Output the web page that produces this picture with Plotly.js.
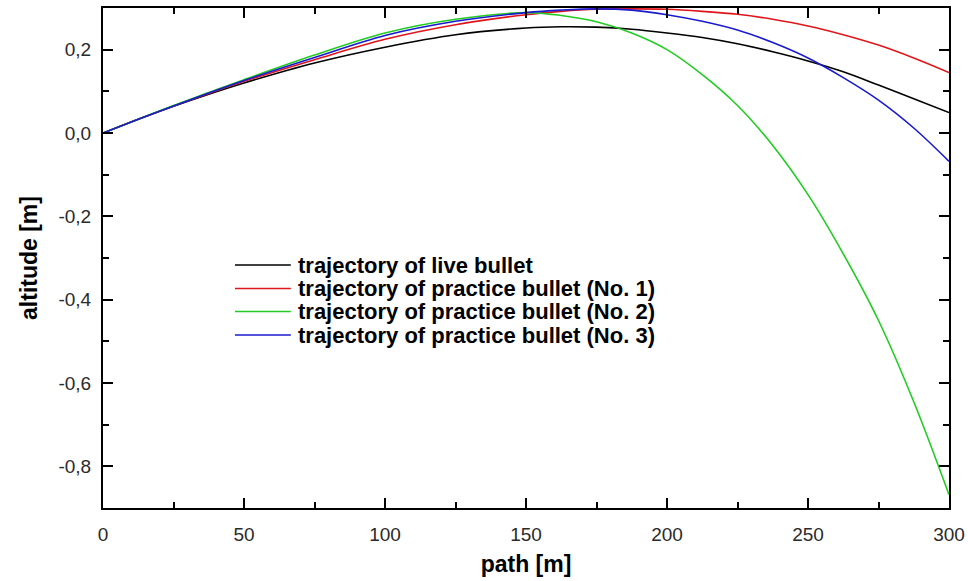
<!DOCTYPE html>
<html>
<head>
<meta charset="utf-8">
<script src="https://cdn.plot.ly/plotly-3.0.1.min.js"></script>
<style>
html,body{margin:0;padding:0;background:#fff;}
#chart{width:968px;height:581px;}
</style>
</head>
<body>
<div id="chart"></div>
<script>
// path [m]
const pathM = [0, 12.5, 25, 37.5, 50, 75, 100, 125, 150, 162.5, 175, 187.5, 200, 212.5, 225, 237.5, 250, 262.5, 275, 287.5, 300];
// altitude [m]
const liveBullet = [0, 0.033, 0.064, 0.093, 0.120, 0.168, 0.206, 0.236, 0.252, 0.255, 0.254, 0.249, 0.240, 0.229, 0.214, 0.195, 0.173, 0.147, 0.115, 0.082, 0.049];
const practice1 = [0, 0.033, 0.065, 0.095, 0.124, 0.176, 0.225, 0.260, 0.284, 0.292, 0.297, 0.298, 0.297, 0.292, 0.285, 0.273, 0.257, 0.236, 0.211, 0.180, 0.145];
const practice2 = [0, 0.033, 0.066, 0.097, 0.128, 0.187, 0.240, 0.273, 0.289, 0.282, 0.267, 0.240, 0.200, 0.140, 0.066, -0.030, -0.148, -0.290, -0.450, -0.645, -0.868];
const practice3 = [0, 0.033, 0.065, 0.096, 0.126, 0.181, 0.234, 0.268, 0.289, 0.295, 0.298, 0.295, 0.284, 0.268, 0.247, 0.217, 0.180, 0.133, 0.079, 0.012, -0.068];

const seriesNames = [
  "trajectory of live bullet",
  "trajectory of practice bullet (No. 1)",
  "trajectory of practice bullet (No. 2)",
  "trajectory of practice bullet (No. 3)"
];
const seriesColors = ["#000000", "#e0151b", "#22cc22", "#1a1ad0"];
const seriesValues = [liveBullet, practice1, practice2, practice3];

const xTickVals = [0, 50, 100, 150, 200, 250, 300];
const xTickText = ["0", "50", "100", "150", "200", "250", "300"];
const yTickVals = [-0.8, -0.6, -0.4, -0.2, 0.0, 0.2];
const yTickText = ["-0,8", "-0,6", "-0,4", "-0,2", "0,0", "0,2"];

const traces = seriesValues.map((vals, i) => ({
  x: pathM,
  y: vals,
  type: 'scatter',
  mode: 'lines',
  name: seriesNames[i],
  line: {color: seriesColors[i], width: 1.6, shape: 'spline', smoothing: 1},
  showlegend: false,
  hoverinfo: 'skip'
}));

// manual legend (paper coords)
const legX0 = 0.156, legX1 = 0.222, legTextX = 0.228;
const legY = [0.486, 0.439, 0.393, 0.346];
const shapes = seriesNames.map((n, i) => ({
  type: 'line', xref: 'paper', yref: 'paper',
  x0: legX0, x1: legX1, y0: legY[i], y1: legY[i],
  line: {color: seriesColors[i], width: 1.6}
}));
const annotations = seriesNames.map((n, i) => ({
  xref: 'paper', yref: 'paper', x: legTextX, y: legY[i],
  xanchor: 'left', yanchor: 'middle', showarrow: false,
  text: '<b>' + n + '</b>',
  font: {family: 'Liberation Sans, Arial, sans-serif', size: 22, color: '#000'}
}));

const layout = {
  width: 968, height: 581,
  margin: {l: 103, r: 19, t: 8, b: 73},
  paper_bgcolor: '#ffffff', plot_bgcolor: '#ffffff',
  font: {family: 'Liberation Sans, Arial, sans-serif', color: '#222'},
  showlegend: false,
  xaxis: {
    range: [0, 300], tickvals: xTickVals, ticktext: xTickText,
    ticks: 'inside', ticklen: 10, tickwidth: 2, tickcolor: '#000',
    minor: {dtick: 25, tick0: 0, ticks: 'inside', ticklen: 6, tickwidth: 2, tickcolor: '#000'},
    showline: true, linecolor: '#000', linewidth: 2, mirror: 'allticks',
    showgrid: false, zeroline: false,
    tickfont: {size: 19, color: '#2a2a2a'},
    ticklabelstandoff: 8,
    title: {text: '<b>path [m]</b>', font: {size: 23, color: '#000'}, standoff: 12}
  },
  yaxis: {
    range: [-0.9, 0.3], tickvals: yTickVals, ticktext: yTickText,
    ticks: 'inside', ticklen: 10, tickwidth: 2, tickcolor: '#000',
    minor: {dtick: 0.1, tick0: 0, ticks: 'inside', ticklen: 6, tickwidth: 2, tickcolor: '#000'},
    showline: true, linecolor: '#000', linewidth: 2, mirror: 'allticks',
    showgrid: false, zeroline: false,
    tickfont: {size: 19, color: '#2a2a2a'},
    ticklabelstandoff: 6,
    title: {text: '<b>altitude [m]</b>', font: {size: 23, color: '#000'}, standoff: 14}
  },
  shapes: shapes,
  annotations: annotations
};

Plotly.newPlot('chart', traces, layout, {displayModeBar: false, staticPlot: true});
</script>
</body>
</html>
